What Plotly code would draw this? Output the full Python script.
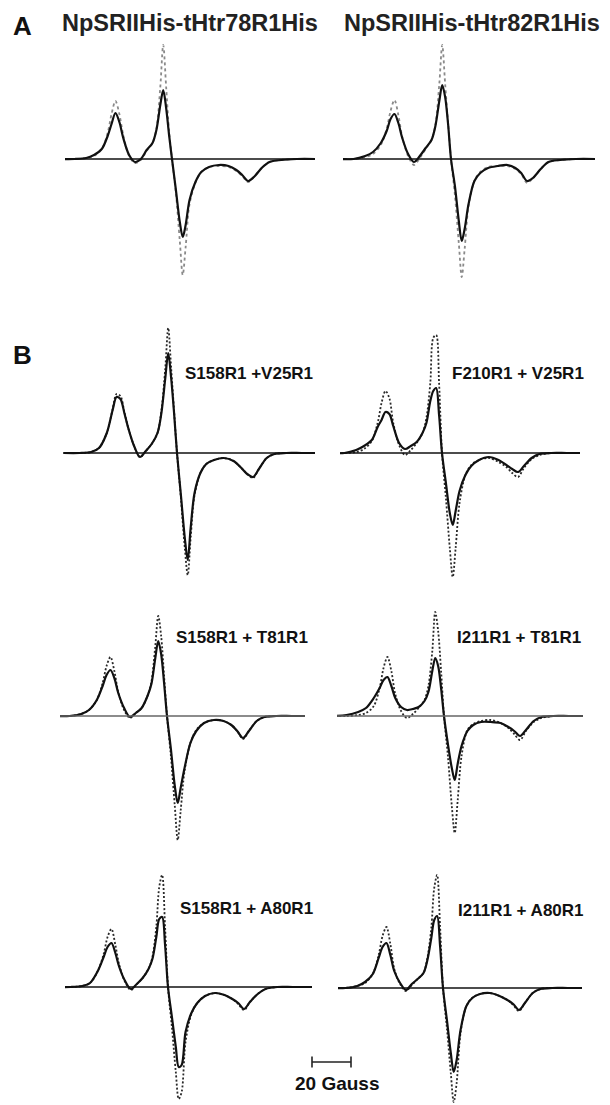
import plotly.graph_objects as go

# magnetic field offset from the centre line (Gauss), shared by all spectra
field = [-58, -50, -44, -40, -36, -33, -31, -29, -27, -25,
         -22, -19, -16, -13, -10, -8, -6, -4.5, -3, -1.5,
         0, 2, 4, 5.5, 7, 9, 12, 15, 19, 24,
         29, 33, 36, 39, 42, 46, 50, 56, 64, 74]

# first-derivative EPR amplitudes (a.u.), solid = measured, dotted = comparison
a78_solid = [0, 0, 0.01, 0.04, 0.10, 0.23, 0.35, 0.46, 0.37, 0.21,
             0.04, -0.03, 0.00, 0.09, 0.16, 0.29, 0.54, 0.69, 0.51, 0.24,
             0, -0.31, -0.63, -0.78, -0.66, -0.41, -0.23, -0.13, -0.08, -0.06,
             -0.07, -0.11, -0.16, -0.22, -0.18, -0.09, -0.03, -0.01, 0, 0]
a78_dotted = [0, 0, 0.01, 0.03, 0.10, 0.26, 0.45, 0.58, 0.45, 0.24,
              0.03, -0.04, -0.01, 0.08, 0.16, 0.30, 0.72, 1.14, 0.72, 0.28,
              0, -0.34, -0.82, -1.16, -0.88, -0.45, -0.24, -0.13, -0.08, -0.07,
              -0.08, -0.12, -0.17, -0.23, -0.18, -0.09, -0.03, -0.01, 0, 0]
a82_solid = [0, 0, 0.03, 0.07, 0.16, 0.28, 0.40, 0.45, 0.36, 0.21,
             0.05, -0.03, 0.03, 0.11, 0.19, 0.33, 0.58, 0.74, 0.62, 0.35,
             0, -0.27, -0.62, -0.82, -0.70, -0.45, -0.22, -0.14, -0.09, -0.07,
             -0.06, -0.09, -0.14, -0.22, -0.19, -0.10, -0.03, -0.01, 0, 0]
a82_dotted = [0, 0, 0.02, 0.05, 0.14, 0.30, 0.48, 0.59, 0.44, 0.22,
              0.03, -0.06, 0.01, 0.10, 0.19, 0.34, 0.75, 1.14, 0.75, 0.36,
              0, -0.36, -0.84, -1.18, -0.90, -0.47, -0.22, -0.13, -0.08, -0.07,
              -0.07, -0.10, -0.15, -0.24, -0.19, -0.10, -0.03, -0.01, 0, 0]

s158_v25_solid = [0, 0, 0.01, 0.05, 0.20, 0.43, 0.56, 0.54, 0.40, 0.25,
                  0.07, -0.04, 0.02, 0.09, 0.20, 0.40, 0.75, 1.00, 0.75, 0.40,
                  0, -0.42, -0.85, -1.07, -0.75, -0.40, -0.20, -0.11, -0.07, -0.05,
                  -0.08, -0.15, -0.21, -0.24, -0.16, -0.05, -0.01, 0, 0, 0]
s158_v25_dotted = [0, 0, 0.01, 0.05, 0.20, 0.44, 0.59, 0.57, 0.41, 0.25,
                   0.07, -0.04, 0.02, 0.09, 0.20, 0.42, 0.85, 1.25, 0.85, 0.42,
                   0, -0.45, -0.95, -1.22, -0.85, -0.42, -0.20, -0.11, -0.07, -0.05,
                   -0.08, -0.15, -0.21, -0.25, -0.16, -0.05, -0.01, 0, 0, 0]
f210_v25_solid = [0, 0, 0.03, 0.07, 0.13, 0.26, 0.33, 0.41, 0.39, 0.27,
                  0.10, 0.04, 0.07, 0.11, 0.20, 0.30, 0.52, 0.62, 0.65, 0.38,
                  0, -0.30, -0.60, -0.72, -0.58, -0.38, -0.22, -0.13, -0.07, -0.04,
                  -0.07, -0.12, -0.16, -0.19, -0.13, -0.05, -0.01, 0, 0, 0]
f210_v25_dotted = [0, 0, 0.01, 0.04, 0.12, 0.30, 0.50, 0.62, 0.55, 0.30,
                   0.08, -0.02, 0.03, 0.10, 0.20, 0.35, 0.70, 1.15, 1.18, 0.70,
                   0, -0.45, -0.95, -1.24, -0.95, -0.50, -0.22, -0.12, -0.07, -0.05,
                   -0.09, -0.14, -0.20, -0.24, -0.15, -0.06, -0.02, 0, 0, 0]

s158_t81_solid = [0, 0, 0.02, 0.06, 0.16, 0.30, 0.41, 0.46, 0.38, 0.23,
                  0.08, -0.01, 0.03, 0.08, 0.20, 0.32, 0.58, 0.75, 0.62, 0.33,
                  0, -0.33, -0.70, -0.87, -0.72, -0.52, -0.27, -0.15, -0.07, -0.04,
                  -0.05, -0.09, -0.15, -0.22, -0.15, -0.05, -0.01, 0, 0, 0]
s158_t81_dotted = [0, 0, 0.02, 0.06, 0.16, 0.33, 0.50, 0.59, 0.45, 0.24,
                   0.06, -0.02, 0.03, 0.08, 0.20, 0.34, 0.70, 1.00, 0.80, 0.40,
                   0, -0.40, -0.90, -1.24, -0.95, -0.55, -0.27, -0.14, -0.07, -0.04,
                   -0.05, -0.09, -0.15, -0.23, -0.15, -0.05, -0.01, 0, 0, 0]
i211_t81_solid = [0, 0.01, 0.04, 0.08, 0.18, 0.28, 0.36, 0.39, 0.30, 0.18,
                  0.09, 0.06, 0.07, 0.09, 0.15, 0.24, 0.45, 0.58, 0.50, 0.28,
                  0, -0.28, -0.52, -0.64, -0.48, -0.30, -0.15, -0.09, -0.06, -0.06,
                  -0.07, -0.11, -0.15, -0.20, -0.14, -0.05, -0.01, 0, 0, 0]
i211_t81_dotted = [0, 0, 0.01, 0.03, 0.10, 0.28, 0.48, 0.59, 0.45, 0.22,
                   0.05, -0.02, 0.02, 0.08, 0.16, 0.30, 0.65, 1.04, 0.85, 0.45,
                   0, -0.40, -0.90, -1.17, -0.85, -0.40, -0.14, -0.08, -0.05, -0.04,
                   -0.07, -0.12, -0.18, -0.24, -0.15, -0.06, -0.02, 0, 0, 0]

s158_a80_solid = [0, 0, 0.01, 0.04, 0.16, 0.30, 0.40, 0.44, 0.34, 0.20,
                  0.06, -0.02, 0.03, 0.09, 0.18, 0.28, 0.50, 0.68, 0.70, 0.42,
                  0, -0.30, -0.60, -0.80, -0.78, -0.45, -0.26, -0.16, -0.09, -0.06,
                  -0.08, -0.12, -0.16, -0.22, -0.15, -0.07, -0.02, 0, 0, 0]
s158_a80_dotted = [0, 0, 0.01, 0.04, 0.16, 0.33, 0.50, 0.58, 0.42, 0.22,
                   0.05, -0.03, 0.03, 0.09, 0.18, 0.30, 0.60, 1.00, 1.12, 0.60,
                   0, -0.40, -0.85, -1.12, -1.05, -0.55, -0.27, -0.16, -0.09, -0.06,
                   -0.08, -0.12, -0.17, -0.23, -0.15, -0.07, -0.02, 0, 0, 0]
i211_a80_solid = [0, 0, 0.02, 0.06, 0.14, 0.30, 0.41, 0.45, 0.33, 0.17,
                  0.05, -0.02, 0.04, 0.09, 0.15, 0.28, 0.50, 0.68, 0.72, 0.42,
                  0, -0.32, -0.65, -0.84, -0.72, -0.42, -0.18, -0.10, -0.06, -0.05,
                  -0.08, -0.12, -0.16, -0.22, -0.15, -0.05, -0.01, 0, 0, 0]
i211_a80_dotted = [0, 0, 0.02, 0.05, 0.14, 0.33, 0.52, 0.61, 0.44, 0.19,
                   0.04, -0.03, 0.03, 0.09, 0.15, 0.30, 0.60, 1.00, 1.13, 0.62,
                   0, -0.40, -0.85, -1.14, -0.95, -0.45, -0.18, -0.10, -0.06, -0.05,
                   -0.08, -0.12, -0.17, -0.23, -0.15, -0.05, -0.01, 0, 0, 0]

labels = ["NpSRIIHis-tHtr78R1His", "NpSRIIHis-tHtr82R1His",
          "S158R1 +V25R1", "F210R1 + V25R1",
          "S158R1 + T81R1", "I211R1 + T81R1",
          "S158R1 + A80R1", "I211R1 + A80R1"]
scale_gauss = 20

spectra = [(a78_solid, a78_dotted), (a82_solid, a82_dotted),
           (s158_v25_solid, s158_v25_dotted), (f210_v25_solid, f210_v25_dotted),
           (s158_t81_solid, s158_t81_dotted), (i211_t81_solid, i211_t81_dotted),
           (s158_a80_solid, s158_a80_dotted), (i211_a80_solid, i211_a80_dotted)]
for s, d in spectra:
    assert len(s) == len(field) and len(d) == len(field)

# ---- layout (pixels) ----
W, H = 610, 1105
PXG = 1.95      # pixels per Gauss
PXA = 100.0     # pixels per amplitude unit
# left, right, centre crossing, baseline
panels = [(65, 315, 172, 159), (343, 595, 451, 159),
          (63, 315, 177, 453), (340, 580, 442, 453),
          (60, 305, 167, 716), (337, 583, 444, 716),
          (65, 312, 168, 987), (338, 582, 443, 988)]
label_pos = [(60, 23), (342, 23),
             (315, 373), (586, 373),
             (310, 637), (583, 637),
             (315, 908), (586, 910)]

fig = go.Figure()
layout = dict(width=W, height=H, margin=dict(l=0, r=0, t=0, b=0),
              paper_bgcolor="white", plot_bgcolor="rgba(0,0,0,0)",
              showlegend=False, shapes=[], annotations=[])

for i, ((s, d), (left, right, zero, base)) in enumerate(zip(spectra, panels)):
    n = i + 1
    xa = "x" if n == 1 else f"x{n}"
    ya = "y" if n == 1 else f"y{n}"
    hi = min(1.4, base / PXA)
    lo = min(1.4, (H - base) / PXA)
    layout["xaxis" if n == 1 else f"xaxis{n}"] = dict(
        domain=[left / W, right / W],
        range=[(left - zero) / PXG, (right - zero) / PXG],
        anchor=ya, visible=False, fixedrange=True)
    layout["yaxis" if n == 1 else f"yaxis{n}"] = dict(
        domain=[max(0, 1 - (base + lo * PXA) / H), min(1, 1 - (base - hi * PXA) / H)],
        range=[-lo, hi], anchor=xa, visible=False, fixedrange=True)

    dot_color = "#8a8a8a" if i < 2 else "#2a2a2a"
    dot_dash = "dot" if i < 2 else "2px,2px"
    base_color = "#666666" if i in (4, 5) else "#111111"
    layout["shapes"].append(dict(type="line", xref=f"{xa} domain", yref=ya,
                                 x0=0, x1=1, y0=0, y1=0,
                                 line=dict(color=base_color, width=1.3)))
    fig.add_trace(go.Scatter(x=field, y=d, xaxis=xa, yaxis=ya, mode="lines",
                             line=dict(color=dot_color, width=1.8, dash=dot_dash,
                                       shape="spline", smoothing=0.9)))
    fig.add_trace(go.Scatter(x=field, y=s, xaxis=xa, yaxis=ya, mode="lines",
                             line=dict(color="#111111", width=2.2,
                                       shape="spline", smoothing=0.9)))

    lx, ly = label_pos[i]
    if i < 2:
        layout["annotations"].append(dict(
            text=f"<b>{labels[i]}</b>", x=lx / W, y=1 - ly / H, xref="paper", yref="paper",
            xanchor="left", yanchor="middle", showarrow=False,
            font=dict(family="Liberation Sans, Arial", size=23.5, color="#222222")))
    else:
        layout["annotations"].append(dict(
            text=f"<b>{labels[i]}</b>", x=lx / W, y=1 - ly / H, xref="paper", yref="paper",
            xanchor="right", yanchor="middle", showarrow=False,
            font=dict(family="Liberation Sans, Arial", size=17, color="#111111")))

# panel letters
for letter, (lx, ly) in zip(["A", "B"], [(11, 26), (11, 355)]):
    layout["annotations"].append(dict(
        text=f"<b>{letter}</b>", x=lx / W, y=1 - ly / H, xref="paper", yref="paper",
        xanchor="left", yanchor="middle", showarrow=False,
        font=dict(family="Liberation Sans, Arial", size=26, color="#111111")))

# 20 Gauss scale bar on its own axis with the same px/Gauss
layout["xaxis9"] = dict(domain=[300 / W, 380 / W], range=[-12 / PXG, 68 / PXG],
                        anchor="y9", visible=False, fixedrange=True)
layout["yaxis9"] = dict(domain=[1 - 1072 / H, 1 - 1052 / H], range=[-1, 1],
                        anchor="x9", visible=False, fixedrange=True)
fig.add_trace(go.Scatter(x=[0, scale_gauss], y=[0, 0], xaxis="x9", yaxis="y9",
                         mode="lines+markers", cliponaxis=False,
                         line=dict(color="#222222", width=1.6),
                         marker=dict(symbol="line-ns-open", size=8,
                                     line=dict(color="#222222", width=1.6))))
layout["annotations"].append(dict(
    text=f"<b>{scale_gauss} Gauss</b>", x=337 / W, y=1 - 1083 / H, xref="paper", yref="paper",
    xanchor="center", yanchor="middle", showarrow=False,
    font=dict(family="Liberation Sans, Arial", size=19, color="#111111")))

fig.update_layout(**layout)
# drop the browser's default page margin so the figure fills the window
fig.write_html("out.html", config={"displayModeBar": False},
               post_script="document.body.style.margin='0';")
